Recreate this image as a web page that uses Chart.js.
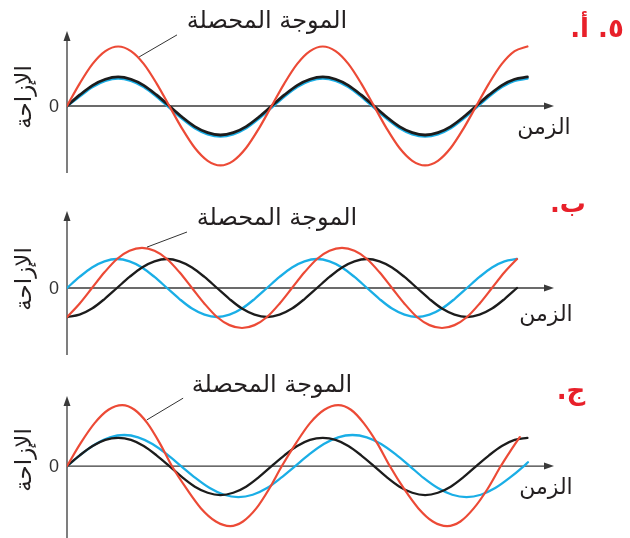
<!DOCTYPE html>
<html lang="ar">
<head>
<meta charset="utf-8">
<title>تراكب الموجات</title>
<script src="https://cdn.jsdelivr.net/npm/chart.js@4.4.0/dist/chart.umd.min.js"></script>
<style>
    body { margin: 0; background: #fff; }
    #figure { position: relative; width: 630px; height: 538px; overflow: hidden; font-family: "DejaVu Sans", sans-serif; }
    #figure canvas { position: absolute; left: 0; }
    .label { position: absolute; transform: translate(-50%, -50%); white-space: nowrap; color: #231f20; direction: rtl; line-height: 1; }
    .title { font-size: 24px; }
    .time { font-size: 22px; }
    .disp { font-size: 23px; transform: translate(-50%, -50%) rotate(-90deg); }
    .zero { font-size: 18px; color: #333; direction: ltr; font-family: "Liberation Sans", sans-serif; }
    .part { font-size: 26px; font-weight: bold; color: #e8202a; }
</style>
</head>
<body>
<div id="figure">
    <canvas id="panelA" width="630" height="180" style="top:0"></canvas>
    <canvas id="panelB" width="630" height="180" style="top:180px"></canvas>
    <canvas id="panelC" width="630" height="178" style="top:360px"></canvas>
</div>
<script>
// time readings shared by the waves that keep the reference period
const timeSteps = [0, 0.25, 0.5, 0.75, 1, 1.25, 1.5, 1.75, 2, 2.25, 2.5, 2.75, 3, 3.25, 3.5, 3.75, 4,
    4.25, 4.5, 4.75, 5, 5.25, 5.5, 5.75, 6, 6.25, 6.5, 6.75, 7, 7.25, 7.5, 7.75, 8, 8.25, 8.5, 8.75, 9];

// أ - two identical waves in phase
const waveA1 = [0, 0.38, 0.71, 0.92, 1, 0.92, 0.71, 0.38, 0, -0.38, -0.71, -0.92, -1, -0.92, -0.71, -0.38,
    0, 0.38, 0.71, 0.92, 1, 0.92, 0.71, 0.38, 0, -0.38, -0.71, -0.92, -1, -0.92, -0.71, -0.38, 0, 0.38, 0.71, 0.92, 1];
const waveA2 = [0, 0.34, 0.66, 0.87, 0.95, 0.87, 0.66, 0.33, -0.05, -0.43, -0.76, -0.97, -1.05, -0.97, -0.76, -0.43,
    -0.05, 0.33, 0.66, 0.87, 0.95, 0.87, 0.66, 0.33, -0.05, -0.43, -0.76, -0.97, -1.05, -0.97, -0.76, -0.43, -0.05, 0.33, 0.66, 0.87, 0.95];
const resultA = [0, 0.78, 1.45, 1.89, 2.05, 1.89, 1.45, 0.78, 0, -0.78, -1.45, -1.89, -2.05, -1.89, -1.45, -0.78,
    0, 0.78, 1.45, 1.89, 2.05, 1.89, 1.45, 0.78, 0, -0.78, -1.45, -1.89, -2.05, -1.89, -1.45, -0.78, 0, 0.78, 1.45, 1.89, 2.05];

// ب - quarter period apart
const waveB1 = [-1, -0.92, -0.71, -0.38, 0, 0.38, 0.71, 0.92, 1, 0.92, 0.71, 0.38, 0, -0.38, -0.71, -0.92,
    -1, -0.92, -0.71, -0.38, 0, 0.38, 0.71, 0.92, 1, 0.92, 0.71, 0.38, 0, -0.38, -0.71, -0.92, -1, -0.92, -0.71, -0.38, 0];
const waveB2 = [0, 0.38, 0.71, 0.92, 1, 0.92, 0.71, 0.38, 0, -0.38, -0.71, -0.92, -1, -0.92, -0.71, -0.38,
    0, 0.38, 0.71, 0.92, 1, 0.92, 0.71, 0.38, 0, -0.38, -0.71, -0.92, -1, -0.92, -0.71, -0.38, 0, 0.38, 0.71, 0.92, 1];
const resultB = [-1, -0.54, 0, 0.54, 1, 1.28, 1.38, 1.28, 1, 0.54, 0, -0.54, -1, -1.28, -1.38, -1.28,
    -1, -0.54, 0, 0.54, 1, 1.28, 1.38, 1.28, 1, 0.54, 0, -0.54, -1, -1.28, -1.38, -1.28, -1, -0.54, 0, 0.54, 1];

// ج - slightly different frequencies
const waveC1 = [0, 0.37, 0.69, 0.9, 0.97, 0.9, 0.69, 0.37, 0, -0.38, -0.71, -0.92, -1, -0.92, -0.71, -0.38,
    0, 0.37, 0.69, 0.9, 0.97, 0.9, 0.69, 0.37, 0, -0.38, -0.71, -0.92, -1, -0.92, -0.71, -0.38, 0, 0.37, 0.69, 0.9, 0.97];
const timeC2 = [0, 0.28, 0.56, 0.84, 1.12, 1.39, 1.67, 1.95, 2.23, 2.51, 2.79, 3.07, 3.35, 3.63, 3.91, 4.18, 4.46,
    4.74, 5.02, 5.3, 5.58, 5.86, 6.14, 6.42, 6.7, 6.97, 7.25, 7.53, 7.81, 8.09, 8.37, 8.65, 8.93, 9.01];
const waveC2 = [0, 0.41, 0.76, 0.99, 1.07, 0.99, 0.76, 0.41, 0, -0.41, -0.76, -0.99, -1.07, -0.99, -0.76, -0.41, 0,
    0.41, 0.76, 0.99, 1.07, 0.99, 0.76, 0.41, 0, -0.41, -0.76, -0.99, -1.07, -0.99, -0.76, -0.41, 0, 0.13];
const timeCR = [0, 0.27, 0.54, 0.81, 1.08, 1.32, 1.57, 1.81, 2.05, 2.34, 2.62, 2.91, 3.19, 3.44, 3.7, 3.95, 4.2,
    4.48, 4.75, 5.03, 5.3, 5.55, 5.8, 6.06, 6.31, 6.59, 6.87, 7.15, 7.43, 7.69, 7.95, 8.22, 8.48, 8.66, 8.85];
const resultC = [0, 0.8, 1.48, 1.94, 2.1, 1.94, 1.48, 0.8, 0, -0.79, -1.46, -1.91, -2.07, -1.91, -1.46, -0.79, 0,
    0.8, 1.48, 1.94, 2.1, 1.94, 1.48, 0.8, 0, -0.79, -1.46, -1.91, -2.07, -1.91, -1.46, -0.79, 0, 0.5, 1.0];

const RED = '#ec4a36';
const BLUE = '#1aaee6';
const BLACK = '#1c1c1c';
const AXIS = '#3a3a3a';

const panels = [
    {
        id: 'panelA', part: '٥. أ.',
        xMax: 9.5, yMin: -2.31, yMax: 2.55,
        padding: { left: 67, right: 77, top: 32, bottom: 7 },
        leader: [[2.15, 2.45], [1.41, 1.69]],
        series: [
            { t: timeSteps, y: resultA, color: RED, width: 2.2 },
            { t: timeSteps, y: waveA1, color: BLACK, width: 2.8 },
            { t: timeSteps, y: waveA2, color: BLUE, width: 2.8 }
        ],
        labels: { title: [267, 20], time: [544, 127], disp: [23, 97], zero: [54, 106], part: [597, 28] }
    },
    {
        id: 'panelB', part: 'ب.',
        xMax: 9.72, yMin: -2.31, yMax: 2.62,
        padding: { left: 67, right: 77, top: 32, bottom: 5 },
        leader: [[2.4, 1.93], [1.6, 1.41]],
        series: [
            { t: timeSteps, y: resultB, color: RED, width: 2.2 },
            { t: timeSteps, y: waveB1, color: BLACK, width: 2.3 },
            { t: timeSteps, y: waveB2, color: BLUE, width: 2.3 }
        ],
        labels: { title: [277, 217], time: [546, 314], disp: [23, 279], zero: [54, 288], part: [568, 203] }
    },
    {
        id: 'panelC', part: 'ج.',
        xMax: 9.5, yMin: -2.48, yMax: 2.38,
        padding: { left: 67, right: 77, top: 37, bottom: 0 },
        leader: [[2.27, 2.34], [1.56, 1.59]],
        series: [
            { t: timeCR, y: resultC, color: RED, width: 2.2 },
            { t: timeSteps, y: waveC1, color: BLACK, width: 2.3 },
            { t: timeC2, y: waveC2, color: BLUE, width: 2.3 }
        ],
        labels: { title: [272, 384], time: [546, 487], disp: [23, 460], zero: [54, 466], part: [571, 390] }
    }
];

function axesPlugin(panel) {
    return {
        id: 'waveAxes',
        beforeDatasetsDraw(chart) {
            const { ctx, chartArea, scales } = chart;
            const x0 = chartArea.left;
            const y0 = scales.y.getPixelForValue(0);
            ctx.save();
            ctx.strokeStyle = AXIS;
            ctx.fillStyle = AXIS;
            ctx.lineWidth = 1.3;
            // vertical axis
            ctx.beginPath();
            ctx.moveTo(x0, chartArea.bottom);
            ctx.lineTo(x0, chartArea.top + 6);
            ctx.stroke();
            ctx.beginPath();
            ctx.moveTo(x0, chartArea.top - 1);
            ctx.lineTo(x0 - 3.5, chartArea.top + 9);
            ctx.lineTo(x0 + 3.5, chartArea.top + 9);
            ctx.closePath();
            ctx.fill();
            // time axis
            ctx.beginPath();
            ctx.moveTo(x0, y0);
            ctx.lineTo(chartArea.right - 6, y0);
            ctx.stroke();
            ctx.beginPath();
            ctx.moveTo(chartArea.right + 1, y0);
            ctx.lineTo(chartArea.right - 9, y0 - 3.5);
            ctx.lineTo(chartArea.right - 9, y0 + 3.5);
            ctx.closePath();
            ctx.fill();
            ctx.restore();
        },
        afterDatasetsDraw(chart) {
            const { ctx, scales } = chart;
            const [a, b] = panel.leader;
            ctx.save();
            ctx.strokeStyle = '#333';
            ctx.lineWidth = 1;
            ctx.beginPath();
            ctx.moveTo(scales.x.getPixelForValue(a[0]), scales.y.getPixelForValue(a[1]));
            ctx.lineTo(scales.x.getPixelForValue(b[0]), scales.y.getPixelForValue(b[1]));
            ctx.stroke();
            ctx.restore();
        }
    };
}

function makePanel(panel) {
    const canvas = document.getElementById(panel.id);
    return new Chart(canvas, {
        type: 'line',
        data: {
            datasets: panel.series.map(s => ({
                data: s.t.map((t, i) => ({ x: t, y: s.y[i] })),
                borderColor: s.color,
                borderWidth: s.width,
                borderCapStyle: 'round',
                borderJoinStyle: 'round',
                pointRadius: 0,
                fill: false,
                cubicInterpolationMode: 'monotone'
            }))
        },
        options: {
            responsive: false,
            animation: false,
            events: [],
            layout: { padding: panel.padding },
            plugins: { legend: { display: false }, tooltip: { enabled: false } },
            scales: {
                x: { type: 'linear', display: false, min: 0, max: panel.xMax },
                y: { display: false, min: panel.yMin, max: panel.yMax }
            }
        },
        plugins: [axesPlugin(panel)]
    });
}

function addLabel(cls, text, pos) {
    const el = document.createElement('div');
    el.className = 'label ' + cls;
    el.textContent = text;
    el.style.left = pos[0] + 'px';
    el.style.top = pos[1] + 'px';
    document.getElementById('figure').appendChild(el);
}

panels.forEach(panel => {
    makePanel(panel);
    addLabel('title', 'الموجة المحصلة', panel.labels.title);
    addLabel('time', 'الزمن', panel.labels.time);
    addLabel('disp', 'الإزاحة', panel.labels.disp);
    addLabel('zero', '0', panel.labels.zero);
    addLabel('part', panel.part, panel.labels.part);
});
</script>
</body>
</html>
